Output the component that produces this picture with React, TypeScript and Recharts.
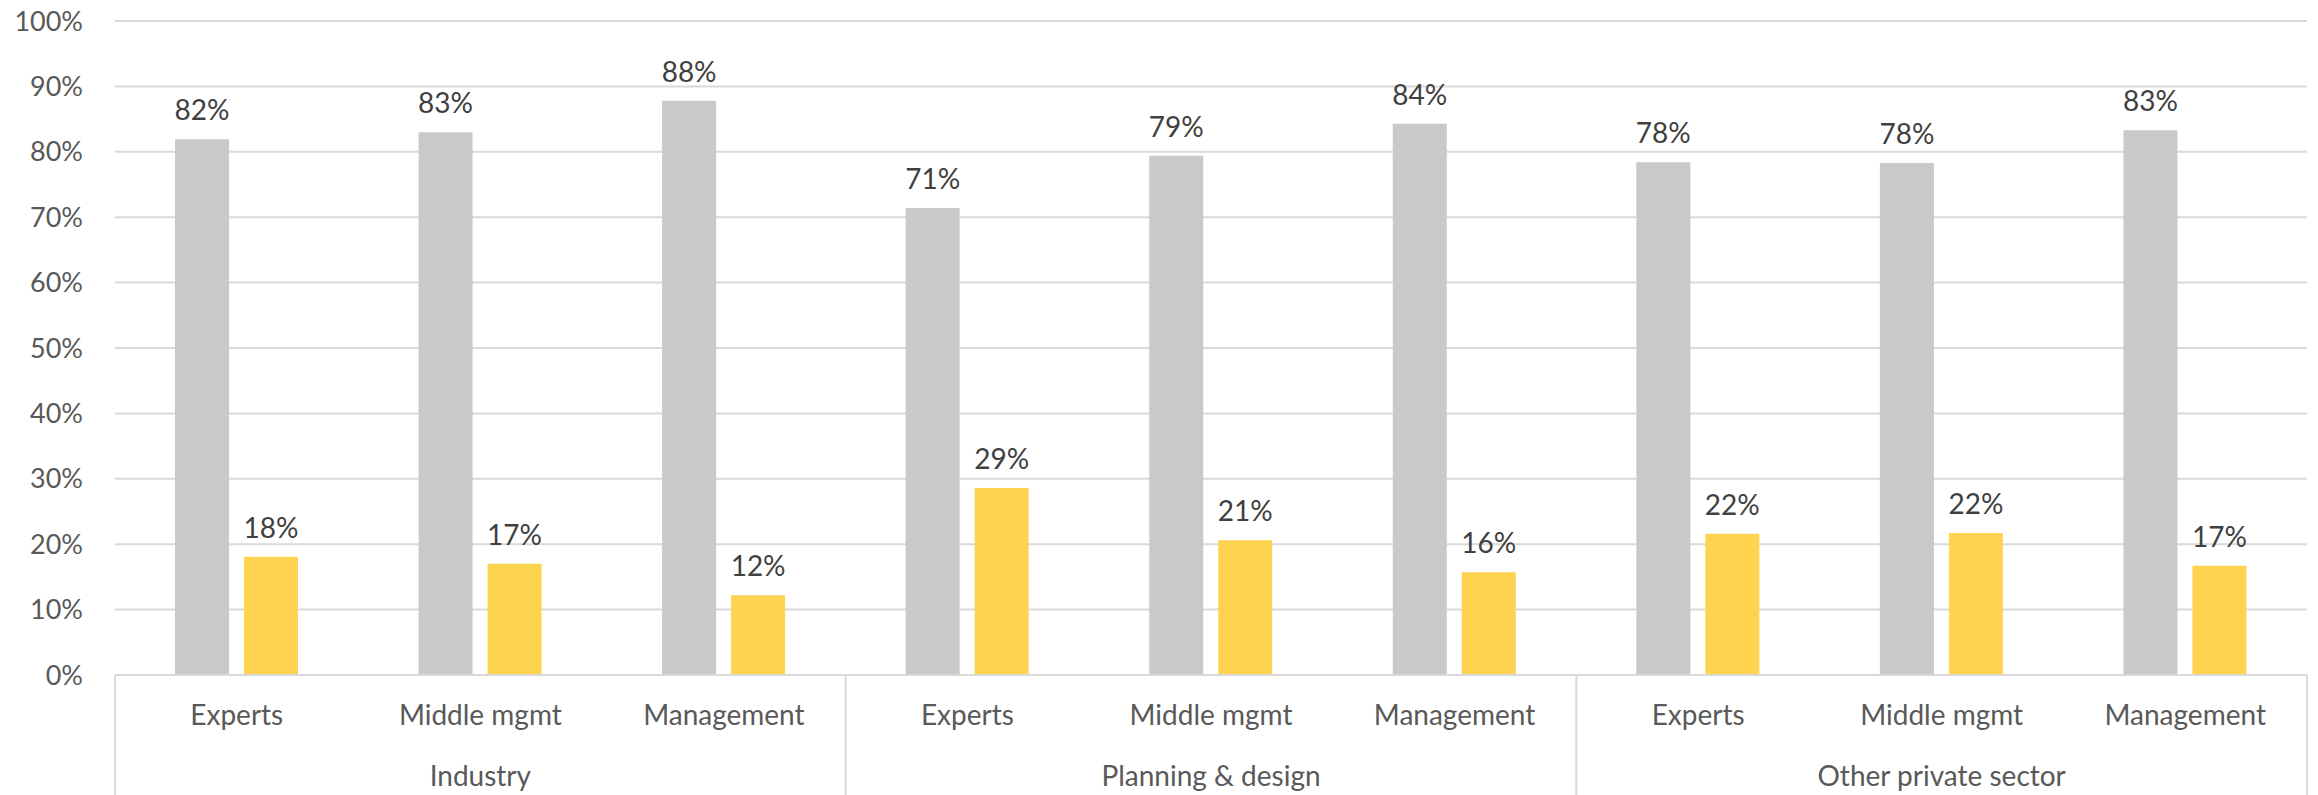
import React from 'react';
import { BarChart, Bar, XAxis, YAxis, CartesianGrid, LabelList } from 'recharts';

// Chart values
const ROLES = ['Experts', 'Middle mgmt', 'Management', 'Experts', 'Middle mgmt', 'Management', 'Experts', 'Middle mgmt', 'Management'];
const GROUPS = ['Industry', 'Planning & design', 'Other private sector'];
const GREY_VALUES = [81.9, 83.0, 87.8, 71.4, 79.4, 84.3, 78.4, 78.3, 83.3];
const YELLOW_VALUES = [18.1, 17.0, 12.2, 28.6, 20.6, 15.7, 21.6, 21.7, 16.7];
const Y_TICKS = [0, 10, 20, 30, 40, 50, 60, 70, 80, 90, 100];

const CHART_W = 2318;
const CHART_H = 795;
const MARGIN = { top: 21, right: 11, left: 0, bottom: 0 };
const Y_AXIS_W = 115;
const PLOT_W = CHART_W - MARGIN.left - MARGIN.right - Y_AXIS_W;
const BAND = PLOT_W / ROLES.length;
const PER_GROUP = ROLES.length / GROUPS.length;

const FONT = 'Lato, "Open Sans", sans-serif';
const GRID = '#D9D9D9';
const GREY = '#C9C9C7';
const YELLOW = '#FED350';

const data = ROLES.map((role, i) => ({
  role,
  group: GROUPS[Math.floor(i / PER_GROUP)],
  grey: GREY_VALUES[i],
  yellow: YELLOW_VALUES[i],
}));

const RoleTick = (props: any) => {
  const { x, y, payload } = props;
  const index = payload?.index ?? props.index ?? 0;
  const lines = [];
  if (index % PER_GROUP === 0) {
    lines.push(<line key="l" x1={x - BAND / 2} x2={x - BAND / 2} y1={y} y2={CHART_H} stroke={GRID} strokeWidth={2} />);
  }
  if (index === ROLES.length - 1) {
    lines.push(<line key="r" x1={x + BAND / 2} x2={x + BAND / 2} y1={y} y2={CHART_H} stroke={GRID} strokeWidth={2} />);
  }
  return (
    <g>
      {lines}
      <text x={x} y={y + 50} textAnchor="middle" fill="#595959" fontSize={28} fontFamily={FONT}>
        {payload.value}
      </text>
    </g>
  );
};

const GroupTick = (props: any) => {
  const { x, y, payload } = props;
  const index = payload?.index ?? props.index ?? 0;
  if (index % PER_GROUP !== 1) return <g />;
  return (
    <text x={x} y={y + 51} textAnchor="middle" fill="#595959" fontSize={28} fontFamily={FONT}>
      {data[index].group}
    </text>
  );
};

export default function App() {
  return (
    <div style={{ position: 'absolute', left: 0, top: 0, width: CHART_W, height: CHART_H, background: '#fff', fontFamily: FONT }}>
      <BarChart width={CHART_W} height={CHART_H} data={data} margin={MARGIN} barSize={54} barGap={15}>
        <CartesianGrid vertical={false} stroke={GRID} strokeWidth={2} />
        <XAxis
          dataKey="role"
          height={60}
          tickLine={false}
          tickSize={0}
          tickMargin={0}
          axisLine={{ stroke: GRID, strokeWidth: 2 }}
          interval={0}
          tick={<RoleTick />}
        />
        <XAxis
          xAxisId="group"
          dataKey="role"
          height={60}
          tickLine={false}
          tickSize={0}
          tickMargin={0}
          axisLine={false}
          interval={0}
          tick={<GroupTick />}
        />
        <YAxis
          width={Y_AXIS_W}
          domain={[0, 100]}
          ticks={Y_TICKS}
          interval={0}
          axisLine={false}
          tickLine={false}
          tickSize={0}
          tickMargin={32}
          tickFormatter={(v: number) => `${v}%`}
          tick={{ fill: '#595959', fontSize: 27, fontFamily: FONT }}
        />
        <Bar dataKey="grey" fill={GREY} isAnimationActive={false}>
          <LabelList
            dataKey="grey"
            position="top"
            offset={19}
            fill="#404040"
            fontSize={28}
            fontFamily={FONT}
            formatter={(v: any) => `${Math.round(Number(v))}%`}
          />
        </Bar>
        <Bar dataKey="yellow" fill={YELLOW} isAnimationActive={false}>
          <LabelList
            dataKey="yellow"
            position="top"
            offset={19}
            fill="#404040"
            fontSize={28}
            fontFamily={FONT}
            formatter={(v: any) => `${Math.round(Number(v))}%`}
          />
        </Bar>
      </BarChart>
    </div>
  );
}
